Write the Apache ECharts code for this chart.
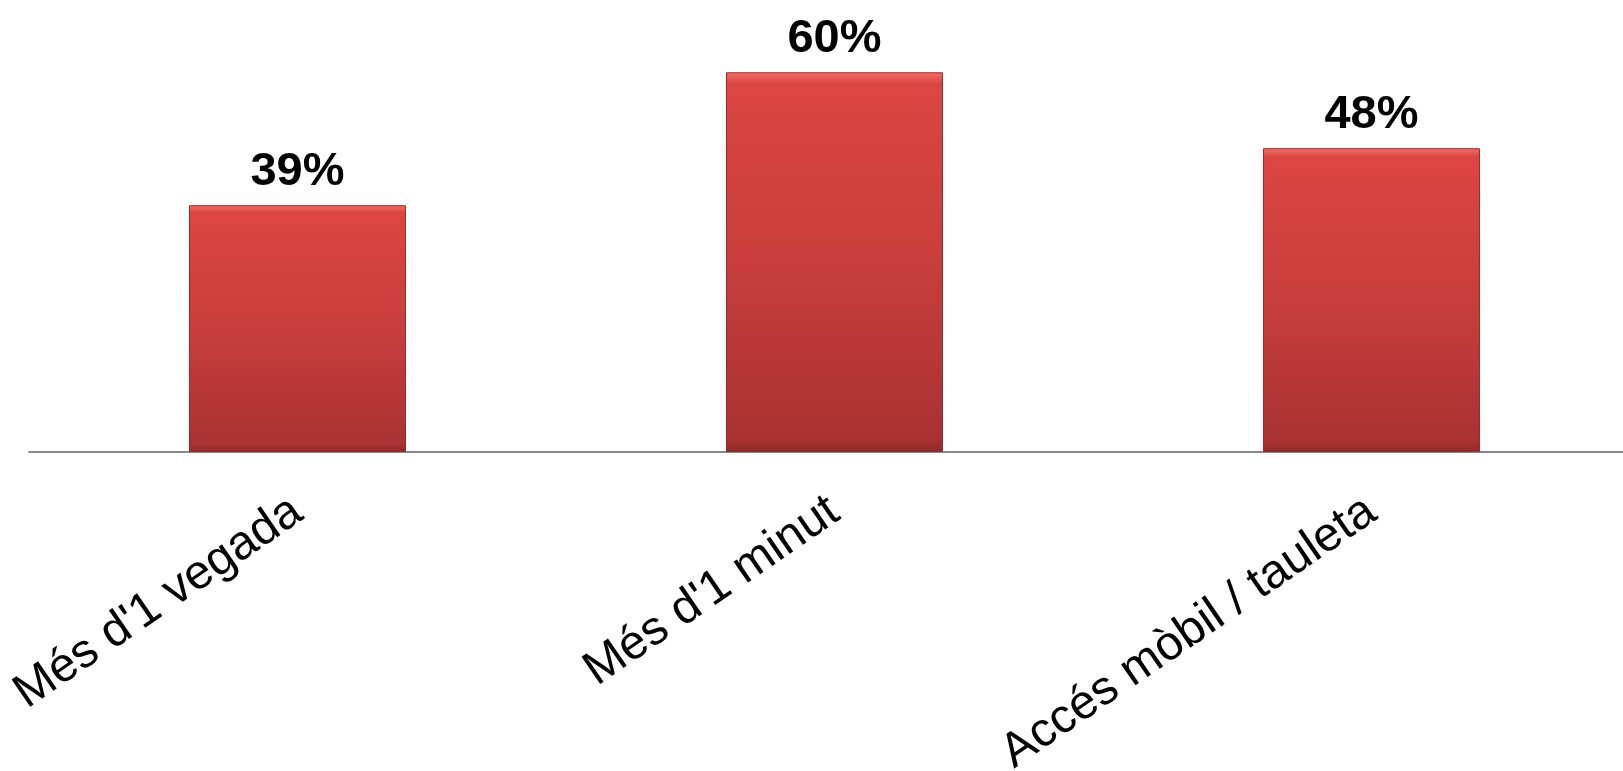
<!DOCTYPE html>
<html>
<head>
<meta charset="utf-8">
<script src="https://cdn.jsdelivr.net/npm/echarts@6/dist/echarts.min.js"></script>
<style>
html,body{margin:0;padding:0;background:#fff;}
#chart{width:1623px;height:771px;}
</style>
</head>
<body>
<div id="chart"></div>
<script>
const categories = ["Més d'1 vegada", "Més d'1 minut", "Accés mòbil / tauleta"];
const values = [39, 60, 48];

const chart = echarts.init(document.getElementById('chart'), null, {renderer: 'canvas'});
chart.setOption({
  animation: false,
  backgroundColor: '#ffffff',
  grid: {left: 29, width: 1611, top: 9, bottom: 319, containLabel: false, outerBoundsMode: 'none'},
  xAxis: {
    type: 'category',
    data: categories,
    axisLine: {show: true, lineStyle: {color: '#888888', width: 2}},
    axisTick: {show: false},
    axisLabel: {
      interval: 0,
      rotate: 34.5,
      margin: 55,
      fontFamily: 'Liberation Sans, Arial, sans-serif',
      fontSize: 48,
      color: '#000000'
    }
  },
  yAxis: {
    type: 'value',
    min: 0,
    max: 70,
    show: false,
    splitLine: {show: false}
  },
  series: [{
    type: 'bar',
    data: values,
    barWidth: '40.4%',
    itemStyle: {
      color: new echarts.graphic.LinearGradient(0, 0, 0, 1, [
        {offset: 0, color: '#f07068'},
        {offset: 0.03, color: '#dc4642'},
        {offset: 0.5, color: '#c83e3c'},
        {offset: 0.97, color: '#a83232'},
        {offset: 1, color: '#8e2828'}
      ]),
      borderColor: '#9a2a2a',
      borderWidth: 1
    },
    label: {
      show: true,
      position: 'top',
      distance: 10,
      formatter: '{c}%',
      fontFamily: 'Liberation Sans, Arial, sans-serif',
      fontWeight: 'bold',
      fontSize: 47,
      color: '#000000'
    }
  }]
});
</script>
</body>
</html>
